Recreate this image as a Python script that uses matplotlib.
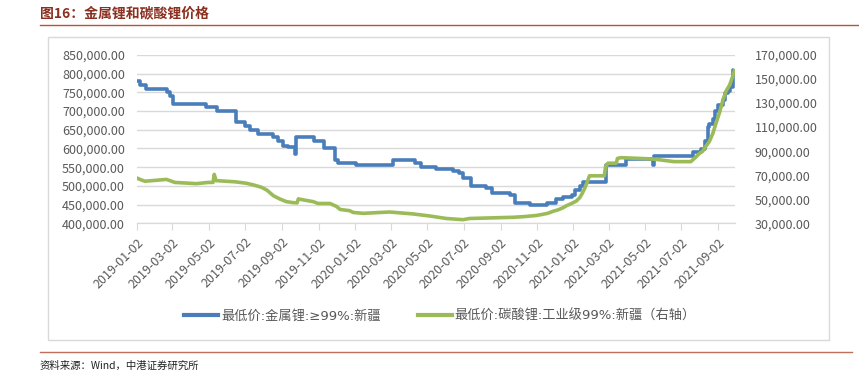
import numpy as np
import pandas as pd
import matplotlib
matplotlib.use("Agg")
import matplotlib.pyplot as plt
from matplotlib.ticker import FuncFormatter
from matplotlib.patches import Rectangle
from matplotlib.lines import Line2D

plt.rcParams['font.family'] = ['Noto Sans CJK SC', 'DejaVu Sans']

# 最低价:金属锂:≥99%:新疆 (left axis)
metal_dates = ["2019-01-02", "2019-01-07", "2019-01-16", "2019-02-21", "2019-02-26", "2019-03-03",
               "2019-04-02", "2019-04-28", "2019-05-16", "2019-06-17", "2019-07-01", "2019-07-10",
               "2019-07-24", "2019-08-18", "2019-08-26", "2019-09-04", "2019-09-12", "2019-09-23",
               "2019-09-25", "2019-10-25", "2019-11-11", "2019-11-30", "2019-12-05", "2020-01-04",
               "2020-03-06", "2020-04-11", "2020-04-22", "2020-05-17", "2020-06-14", "2020-06-25",
               "2020-07-01", "2020-07-15", "2020-08-09", "2020-08-18", "2020-09-17", "2020-09-26",
               "2020-10-21", "2020-11-18", "2020-12-04", "2020-12-16", "2020-12-30", "2021-01-04",
               "2021-01-13", "2021-01-18", "2021-02-25", "2021-04-01", "2021-05-15", "2021-05-17",
               "2021-07-21", "2021-08-04", "2021-08-10", "2021-08-15", "2021-08-18", "2021-08-24",
               "2021-08-27", "2021-09-01", "2021-09-10", "2021-09-13", "2021-09-18", "2021-09-21",
               "2021-09-26", "2021-09-29"]
metal_vals = [780000, 770000, 760000, 750000, 740000, 720000,
              718000, 710000, 700000, 670000, 660000, 650000,
              640000, 630000, 620000, 608000, 603000, 585000,
              630000, 620000, 600000, 570000, 560000, 555000,
              570000, 560000, 550000, 545000, 540000, 535000,
              520000, 500000, 495000, 480000, 475000, 455000,
              450000, 455000, 465000, 470000, 477000, 490000,
              500000, 510000, 555000, 572000, 555000, 580000,
              590000, 598000, 620000, 658000, 665000, 680000,
              700000, 716000, 730000, 748000, 755000, 765000,
              810000, 812000]

# 最低价:碳酸锂:工业级99%:新疆 (right axis)
carb_dates = ["2019-01-02", "2019-01-09", "2019-01-15", "2019-02-20", "2019-03-06", "2019-04-11",
              "2019-05-01", "2019-05-09", "2019-05-11", "2019-05-14", "2019-06-15", "2019-07-04",
              "2019-07-15", "2019-07-29", "2019-08-07", "2019-08-18", "2019-08-29", "2019-09-09",
              "2019-09-20", "2019-09-27", "2019-09-29", "2019-10-07", "2019-10-24", "2019-11-01",
              "2019-11-21", "2019-12-02", "2019-12-08", "2019-12-24", "2019-12-30", "2020-01-16",
              "2020-02-29", "2020-04-08", "2020-05-06", "2020-06-03", "2020-07-01", "2020-07-12",
              "2020-09-23", "2020-10-10", "2020-11-01", "2020-11-12", "2020-11-20", "2020-11-29",
              "2020-12-07", "2020-12-16", "2020-12-21", "2020-12-30", "2021-01-07", "2021-01-13",
              "2021-01-17", "2021-01-21", "2021-01-25", "2021-01-29", "2021-02-23", "2021-02-25",
              "2021-03-01", "2021-03-15", "2021-03-17", "2021-03-23", "2021-05-15", "2021-05-20",
              "2021-06-20", "2021-07-18", "2021-07-27", "2021-08-01", "2021-08-07", "2021-08-12",
              "2021-08-18", "2021-08-24", "2021-08-29", "2021-09-04", "2021-09-10", "2021-09-15",
              "2021-09-21", "2021-09-26", "2021-09-29"]
carb_vals = [67500, 66000, 65000, 66500, 64000, 63000,
             64000, 64000, 70700, 65500, 64500, 63300,
             62000, 60000, 57700, 53000, 50200, 48000,
             47200, 47000, 50300, 49500, 48000, 46500,
             46500, 44000, 41500, 40500, 39000, 38300,
             39400, 37800, 36100, 34000, 33000, 34000,
             35000, 35500, 36500, 37500, 38300, 40000,
             41100, 43000, 44500, 46500, 48500, 51500,
             55000, 59000, 64000, 69500, 69500, 77000,
             80000, 80000, 84000, 84600, 83500, 83200,
             81300, 81300, 85400, 88000, 90000, 94000,
             98000, 105000, 113000, 122000, 133000, 140000,
             145000, 152000, 157000]

tick_labels = ["2019-01-02", "2019-03-02", "2019-05-02", "2019-07-02", "2019-09-02", "2019-11-02",
               "2020-01-02", "2020-03-02", "2020-05-02", "2020-07-02", "2020-09-02", "2020-11-02",
               "2021-01-02", "2021-03-02", "2021-05-02", "2021-07-02", "2021-09-02"]

blue = '#4A7EBB'
green = '#9BBB59'
gray_txt = '#595959'
grid_c = '#D9D9D9'

fig = plt.figure(figsize=(8.59, 3.73), dpi=100)

# frame box around chart
fig.patches.append(Rectangle((48/859, 1-340/373), (829-48)/859, (340-37)/373, transform=fig.transFigure,
                             facecolor='white', edgecolor='#D9D9D9', linewidth=1.0, zorder=-10))

ax = fig.add_axes([137.3/859, 1-223.3/373, (735-137.3)/859, (223.3-55)/373])
ax2 = ax.twinx()
ax.patch.set_alpha(0)

md = pd.to_datetime(metal_dates)
cd = pd.to_datetime(carb_dates)
ax.plot(md, metal_vals, color=blue, lw=2.6, drawstyle='steps-post', solid_capstyle='butt')
ax2.plot(cd, carb_vals, color=green, lw=2.6, solid_joinstyle='round')

ax.set_ylim(400000, 850000)
ax.set_yticks(np.arange(400000, 850001, 50000))
ax2.set_ylim(30000, 170000)
ax2.set_yticks(np.arange(30000, 170001, 20000))
fmt = FuncFormatter(lambda v, p: f'{v:,.2f}')
ax.yaxis.set_major_formatter(fmt)
ax2.yaxis.set_major_formatter(fmt)

ax.set_xlim(pd.Timestamp("2019-01-02"), pd.Timestamp("2021-09-30"))
ticks = pd.to_datetime(tick_labels)
ax.set_xticks(ticks)
ax.set_xticklabels(tick_labels, rotation=45, ha='right', rotation_mode='anchor',
                   fontsize=9, color=gray_txt)

ax.grid(axis='y', color=grid_c, lw=1.0)
ax.set_axisbelow(True)
for a in (ax, ax2):
    for s in ('left', 'right', 'top'):
        a.spines[s].set_visible(False)
    a.spines['bottom'].set_color(grid_c)
ax.tick_params(axis='y', length=0, pad=9, labelsize=9, labelcolor=gray_txt)
ax2.tick_params(axis='y', length=0, pad=14, labelsize=9, labelcolor=gray_txt)
ax.tick_params(axis='x', length=5, color=grid_c, pad=4)

# legend
handles = [Line2D([], [], color=blue, lw=3),
           Line2D([], [], color=green, lw=3)]
fig.legend(handles, ['最低价:金属锂:≥99%:新疆', '最低价:碳酸锂:工业级99%:新疆（右轴）'],
           loc='center', bbox_to_anchor=(440/859, 1-316/373), ncol=2, frameon=False,
           handlelength=2.6, handletextpad=0.2, columnspacing=2.8,
           prop={'size': 9.5, 'family': ['DejaVu Sans', 'Noto Sans CJK SC']}, labelcolor=gray_txt)

# title and decorations
fig.text(40/859, 1-13/373, '图16：金属锂和碳酸锂价格', fontsize=10, fontweight='bold',
         color='#8B2F1E', va='center', ha='left')
fig.add_artist(Line2D([40/859, 1.0], [1-25/373, 1-25/373], color='#B5533C', lw=1.0,
                      transform=fig.transFigure))
fig.add_artist(Line2D([40/859, 852/859], [1-352/373, 1-352/373], color='#C0705A', lw=1.0,
                      transform=fig.transFigure))
fig.text(40/859, 1-366/373, '资料来源：Wind，中港证券研究所', fontsize=7.5, style='italic',
         color='#222222', va='center', ha='left')

fig.savefig('out.png', dpi=100)
